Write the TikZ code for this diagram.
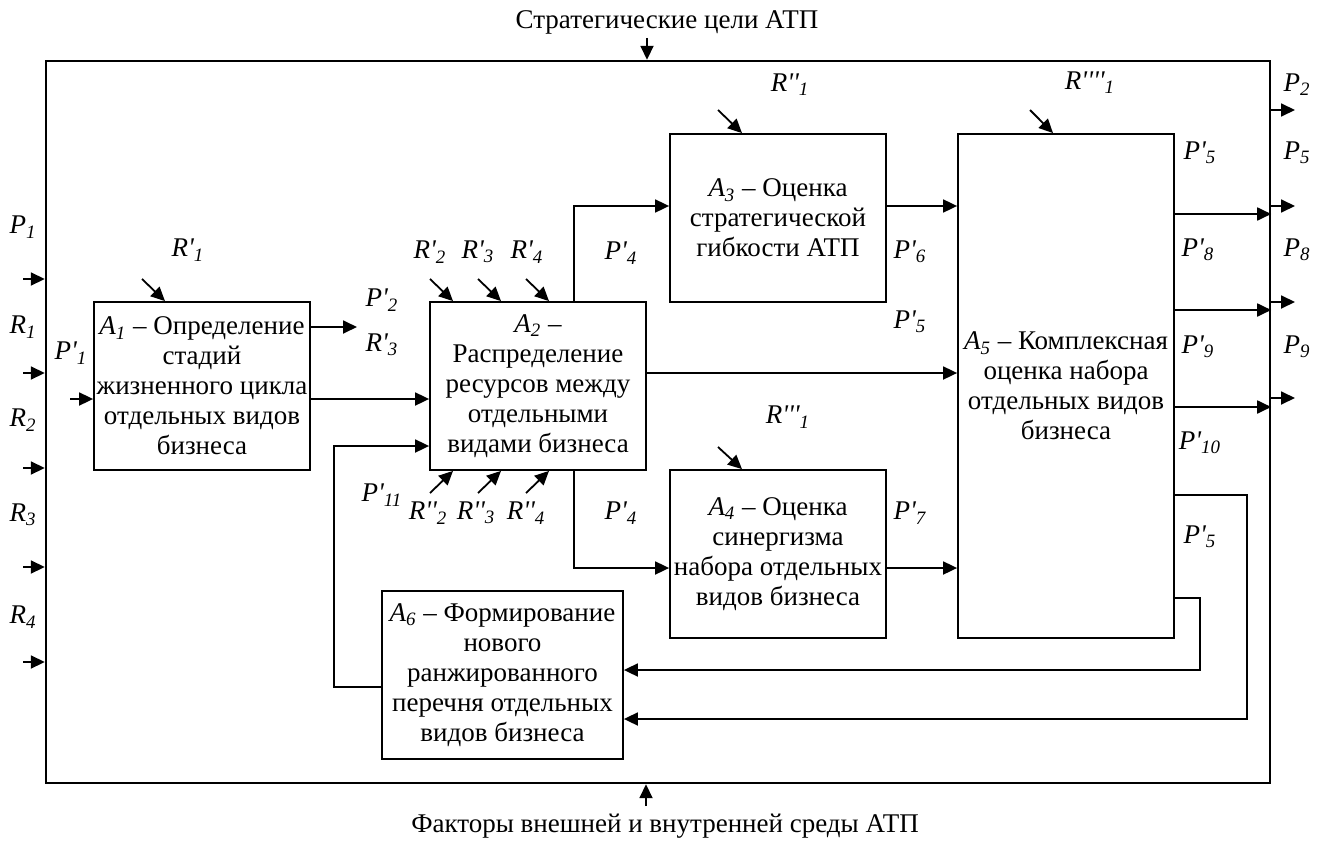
\documentclass[tikz,border=0pt]{standalone}
\usepackage{fontspec}
\setmainfont{Liberation Serif}
\usetikzlibrary{arrows.meta}
\newcommand{\apo}{\textquotesingle}
\newcommand{\ivar}[3]{\textit{#1#2\textsubscript{#3}}}

\begin{document}
\begin{tikzpicture}[
  x=0.5pt, y=-0.5pt,
  font=\fontsize{13.5}{15}\selectfont,
  box/.style={draw, line width=0.9pt, align=center, inner sep=1pt, minimum width=108pt, minimum height=84pt},
  arr/.style={-{Triangle[length=7pt,width=6.5pt]}, line width=0.9pt}
]
\useasboundingbox (0,0) rectangle (1321,840);
\node[draw, line width=1.2pt, minimum width=612pt, minimum height=361pt] (sys) at (658,422) {};
\node (goal) at (667,22) {Стратегические цели АТП};
\node (env) at (665,826) {Факторы внешней и внутренней среды АТП};
\draw[arr] (647,38) -- (647,0 |- sys.north);
\draw[arr] (646,806) -- (646,0 |- sys.south);

% функциональные блоки
\node[box] (a1) at (202,386) {\ivar{A}{}{1} – Определение\\стадий\\жизненного цикла\\отдельных видов\\бизнеса};
\node[box] (a2) at (538,386) {\ivar{A}{}{2} –\\Распределение\\ресурсов между\\отдельными\\видами бизнеса};
\node[box] (a3) at (778,218) {\ivar{A}{}{3} – Оценка\\стратегической\\гибкости АТП};
\node[box] (a4) at (778,554) {\ivar{A}{}{4} – Оценка\\синергизма\\набора отдельных\\видов бизнеса};
\node[box, minimum height=252pt] (a5) at (1066,386) {\ivar{A}{}{5} – Комплексная\\оценка набора\\отдельных видов\\бизнеса};
\node[box, minimum width=120.5pt] (a6) at (502.5,675) {\ivar{A}{}{6} – Формирование\\нового\\ранжированного\\перечня отдельных\\видов бизнеса};

% входы слева
\node (p1) at (23,227) {\ivar{P}{}{1}};
\node (r1) at (23,327) {\ivar{R}{}{1}};
\node (r2) at (23,420) {\ivar{R}{}{2}};
\node (r3) at (23,515) {\ivar{R}{}{3}};
\node (r4) at (23,617) {\ivar{R}{}{4}};
\draw[arr] (23,279) -- (sys.west |- 0,279);
\draw[arr] (23,373) -- (sys.west |- 0,373);
\draw[arr] (23,468) -- (sys.west |- 0,468);
\draw[arr] (23,567) -- (sys.west |- 0,567);
\draw[arr] (23,662) -- (sys.west |- 0,662);

% A1
\node (pp1) at (71,353) {\ivar{P}{\apo}{1}};
\draw[arr] (70,399) -- (a1.west |- 0,399);
\node (rp1) at (188,250) {\ivar{R}{\apo}{1}};
\draw[arr] (142,279) -- (165,0 |- a1.north);
\draw[arr] (a1.east |- 0,327) -- (357,327);
\node (pp2) at (382,300) {\ivar{P}{\apo}{2}};
\node (rp3a) at (382,345) {\ivar{R}{\apo}{3}};
\draw[arr] (a1.east |- 0,399) -- (a2.west |- 0,399);

% A2
\node (rp2) at (430,252) {\ivar{R}{\apo}{2}};
\node (rp3) at (478,252) {\ivar{R}{\apo}{3}};
\node (rp4) at (527,252) {\ivar{R}{\apo}{4}};
\draw[arr] (430,279) -- (453,0 |- a2.north);
\draw[arr] (478,279) -- (501,0 |- a2.north);
\draw[arr] (526,279) -- (549,0 |- a2.north);
\node (rpp2) at (428,513) {\ivar{R}{\apo\apo}{2}};
\node (rpp3) at (476,513) {\ivar{R}{\apo\apo}{3}};
\node (rpp4) at (526,513) {\ivar{R}{\apo\apo}{4}};
\draw[arr] (430,493) -- (453,0 |- a2.south);
\draw[arr] (478,493) -- (501,0 |- a2.south);
\draw[arr] (526,493) -- (549,0 |- a2.south);
\node (pp11) at (382,495) {\ivar{P}{\apo}{11}};
\draw[arr] (574,0 |- a2.north) |- (a3.west |- 0,206);
\node (pp4a) at (621,253) {\ivar{P}{\apo}{4}};
\draw[arr] (574,0 |- a2.south) |- (a4.west |- 0,568);
\node (pp4b) at (621,513) {\ivar{P}{\apo}{4}};
\draw[arr] (a2.east |- 0,373) -- (a5.west |- 0,373);

% A3, A4
\node (rpp1) at (790,85) {\ivar{R}{\apo\apo}{1}};
\draw[arr] (718,110) -- (742,0 |- a3.north);
\draw[arr] (a3.east |- 0,206) -- (a5.west |- 0,206);
\node (pp6) at (910,252) {\ivar{P}{\apo}{6}};
\node (pp5a) at (910,322) {\ivar{P}{\apo}{5}};
\node (rppp1) at (788,417) {\ivar{R}{\apo\apo\apo}{1}};
\draw[arr] (718,447) -- (742,0 |- a4.north);
\draw[arr] (a4.east |- 0,568) -- (a5.west |- 0,568);
\node (pp7) at (910,513) {\ivar{P}{\apo}{7}};

% A5
\node (rpppp1) at (1090,83) {\ivar{R}{\apo\apo\apo\apo}{1}};
\draw[arr] (1030,110) -- (1053,0 |- a5.north);
\node (pp5b) at (1200,153) {\ivar{P}{\apo}{5}};
\node (pp8) at (1198,250) {\ivar{P}{\apo}{8}};
\node (pp9) at (1198,347) {\ivar{P}{\apo}{9}};
\node (pp10) at (1200,443) {\ivar{P}{\apo}{10}};
\node (pp5c) at (1200,537) {\ivar{P}{\apo}{5}};
\draw[arr] (a5.east |- 0,214) -- (sys.east |- 0,214);
\draw[arr] (a5.east |- 0,310) -- (sys.east |- 0,310);
\draw[arr] (a5.east |- 0,407) -- (sys.east |- 0,407);

% выходы справа
\node (p2) at (1297,85) {\ivar{P}{}{2}};
\node (p5) at (1297,153) {\ivar{P}{}{5}};
\node (p8) at (1297,250) {\ivar{P}{}{8}};
\node (p9) at (1297,347) {\ivar{P}{}{9}};
\draw[arr] (sys.east |- 0,110) -- (1295,110);
\draw[arr] (sys.east |- 0,206) -- (1295,206);
\draw[arr] (sys.east |- 0,302) -- (1295,302);
\draw[arr] (sys.east |- 0,398) -- (1295,398);

% обратные связи
\draw[arr] (a5.east |- 0,495) -| (1247,719) -- (a6.east |- 0,719);
\draw[arr] (a5.east |- 0,598) -| (1200,670) -- (a6.east |- 0,670);
\draw[arr] (a6.west |- 0,687) -| (334,446) -- (a2.west |- 0,446);
\end{tikzpicture}
\end{document}
